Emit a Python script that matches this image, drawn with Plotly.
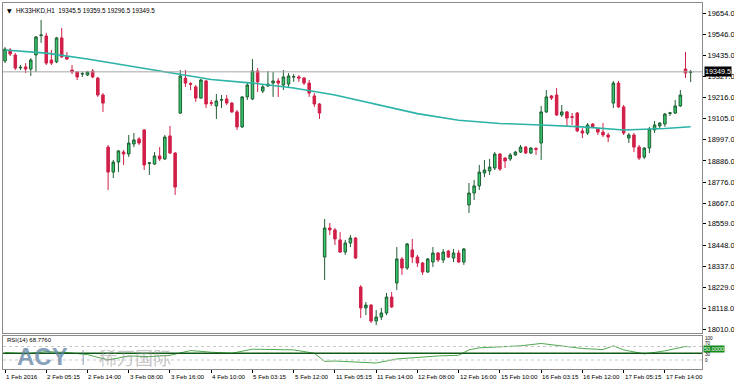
import plotly.graph_objects as go

# ---------------- data ----------------
opens = [19406, 19463, 19437, 19370, 19375, 19364, 19437, 19538, 19536, 19411,
         19401, 19526, 19427, 19359, 19349, 19338, 19333, 19354, 19317, 19229,
         18958, 18828, 18880, 18932, 18922, 18974, 19000, 19047, 18873, 18870,
         18912, 18896, 19016, 18927, 19135, 19317, 19288, 19271, 19213, 19302,
         19189, 19172, 19202, 19208, 19187, 19141, 19063, 19219, 19208, 19354,
         19250, 19276, 19291, 19302, 19281, 19286, 19322, 19323, 19317, 19291,
         19224, 19182, 18386, 18537, 18527, 18475, 18412, 18459, 18485, 18230,
         18121, 18136, 18053, 18074, 18095, 18178, 18251, 18376, 18329, 18423,
         18386, 18355, 18308, 18360, 18407, 18371, 18417, 18381, 18407, 18360,
         18657, 18719, 18756, 18823, 18834, 18849, 18922, 18901, 18896, 18917,
         18932, 18958, 18927, 18950, 18979, 19141, 19224, 19229, 19125, 19141,
         19116, 19135, 19042, 19031, 19078, 19052, 19036, 19021, 19187, 19291,
         19167, 19005, 19021, 18958, 18906, 18953, 19047, 19068, 19078, 19133,
         19135, 19172, 19364, 19345.5]
highs = [19478, 19473, 19447, 19385, 19395, 19421, 19536, 19619, 19552, 19463,
         19531, 19578, 19453, 19385, 19354, 19349, 19354, 19364, 19323, 19239,
         18969, 18891, 18943, 18943, 19021, 19031, 19010, 19052, 18880, 18932,
         18958, 19021, 19068, 18932, 19359, 19359, 19297, 19281, 19312, 19307,
         19203, 19234, 19229, 19229, 19193, 19151, 19222, 19297, 19416, 19369,
         19281, 19354, 19349, 19317, 19359, 19343, 19338, 19333, 19323, 19307,
         19239, 19187, 18584, 18563, 18537, 18516, 18475, 18501, 18490, 18240,
         18152, 18141, 18110, 18121, 18199, 18204, 18438, 18386, 18459, 18480,
         18397, 18360, 18381, 18438, 18412, 18428, 18423, 18428, 18423, 18433,
         18771, 18787, 18865, 18891, 18896, 18932, 18927, 18906, 18927, 18938,
         18969, 18964, 18958, 18958, 19172, 19255, 19229, 19265, 19177, 19146,
         19135, 19141, 19057, 19083, 19083, 19057, 19083, 19031, 19302, 19302,
         19177, 19031, 19031, 18969, 18958, 19063, 19094, 19088, 19135, 19141,
         19203, 19255, 19453, 19359.5]
lows = [19395, 19432, 19359, 19359, 19343, 19328, 19349, 19500, 19385, 19385,
        19395, 19422, 19411, 19338, 19307, 19323, 19328, 19317, 19219, 19141,
        18735, 18797, 18828, 18865, 18906, 18958, 18969, 18839, 18813, 18865,
        18886, 18891, 18922, 18709, 19130, 19271, 19255, 19193, 19210, 19161,
        19172, 19104, 19161, 19177, 19135, 19047, 19057, 19203, 19203, 19245,
        19239, 19271, 19219, 19219, 19255, 19271, 19297, 19297, 19281, 19219,
        19167, 19104, 18267, 18501, 18449, 18407, 18397, 18438, 18376, 18069,
        18084, 18043, 18032, 18058, 18084, 18121, 18214, 18293, 18319, 18355,
        18334, 18293, 18303, 18334, 18360, 18355, 18381, 18360, 18355, 18345,
        18615, 18683, 18735, 18802, 18813, 18839, 18834, 18849, 18886, 18912,
        18927, 18922, 18922, 18917, 18891, 19135, 19203, 19120, 19115, 19063,
        19073, 19036, 19005, 19021, 19057, 19021, 19010, 18984, 19161, 19161,
        19021, 18979, 18932, 18891, 18896, 18927, 19031, 19057, 19063, 19120,
        19130, 19167, 19317, 19296.5]
closes = [19468, 19442, 19369, 19373, 19364, 19411, 19531, 19541, 19395, 19395,
          19526, 19427, 19416, 19349, 19323, 19340, 19349, 19323, 19229, 19187,
          18828, 18880, 18938, 18922, 18979, 18995, 18979, 18865, 18876, 18912,
          18896, 19010, 18927, 18750, 19328, 19291, 19285, 19213, 19307, 19182,
          19186, 19198, 19205, 19187, 19141, 19063, 19219, 19281, 19354, 19297,
          19271, 19286, 19302, 19291, 19323, 19328, 19325, 19317, 19291, 19239,
          19182, 19135, 18537, 18527, 18480, 18412, 18459, 18485, 18381, 18121,
          18136, 18053, 18074, 18095, 18178, 18126, 18376, 18329, 18454, 18386,
          18355, 18308, 18376, 18407, 18371, 18412, 18386, 18407, 18360, 18428,
          18719, 18756, 18828, 18839, 18854, 18922, 18844, 18886, 18917, 18932,
          18958, 18927, 18953, 18946, 19141, 19219, 19213, 19125, 19141, 19109,
          19113, 19042, 19031, 19073, 19063, 19036, 19021, 19010, 19291, 19167,
          19031, 19021, 18958, 18901, 18953, 19052, 19073, 19083, 19130, 19136,
          19172, 19229, 19343, 19349.5]

ma_bars = [0, 8, 16, 24, 32, 40, 48, 56, 64, 72, 80, 88, 96, 104, 112, 120, 128, 133]
ma_values = [19463, 19447, 19416, 19380, 19343, 19310, 19291, 19265, 19229, 19182,
             19132, 19098, 19081, 19073, 19063, 19047, 19055, 19064]

rsi_bars = [0, 4, 8, 12, 16, 20, 24, 28, 32, 36, 40, 44, 48, 52, 56, 60, 62, 64, 68, 72,
            76, 80, 84, 88, 90, 92, 96, 100, 104, 108, 112, 116, 118, 120, 124, 128, 132, 133]
rsi_values = [52, 48, 55, 52, 46, 30, 42, 40, 44, 58, 53, 50, 62, 60, 60, 50, 26, 27, 25, 21,
              33, 38, 42, 44, 60, 66, 70, 72, 79, 72, 64, 61, 72, 60, 48, 57, 70, 68.776]
rsi_levels = [70, 50, 30]
rsi_scale_labels = ["100", "70", "30", "0"]

time_ticks = [0, 8, 16, 24, 32, 40, 48, 56, 64, 72, 80, 88, 96, 104, 112, 120, 128]
time_labels = ["1 Feb 2016", "2 Feb 05:15", "2 Feb 14:00", "3 Feb 08:00", "3 Feb 16:00",
               "4 Feb 10:00", "5 Feb 03:15", "5 Feb 12:00", "11 Feb 05:15", "11 Feb 14:00",
               "12 Feb 08:00", "12 Feb 16:00", "15 Feb 10:00", "16 Feb 03:15", "16 Feb 12:00",
               "17 Feb 05:15", "17 Feb 14:00"]

price_ticks = [19654, 19546, 19435, 19327, 19216, 19105, 18997, 18886, 18776,
               18667, 18559, 18448, 18337, 18229, 18118, 18010]

symbol = "HK33HKD,H1"

# ---------------- figure ----------------
FONT = "Liberation Sans, Arial, sans-serif"
bars = list(range(len(opens)))

fig = go.Figure()
fig.add_trace(go.Candlestick(
    x=bars, open=opens, high=highs, low=lows, close=closes,
    increasing=dict(line=dict(color="#1f5e33", width=1), fillcolor="#33c96a"),
    decreasing=dict(line=dict(color="#d11f48", width=1), fillcolor="#d11f48"),
    whiskerwidth=0, xaxis="x", yaxis="y", showlegend=False, hoverinfo="skip"))
fig.add_trace(go.Scatter(
    x=ma_bars, y=ma_values, mode="lines", line=dict(color="#2ab3a6", width=1.6),
    xaxis="x", yaxis="y", showlegend=False, hoverinfo="skip"))
fig.add_trace(go.Scatter(
    x=rsi_bars, y=rsi_values, mode="lines", line=dict(color="#4ea84e", width=1),
    xaxis="x2", yaxis="y2", showlegend=False, hoverinfo="skip"))

shapes = [dict(type="line", xref="paper", x0=0, x1=1, yref="y",
               y0=closes[-1], y1=closes[-1], line=dict(color="#a6a6a6", width=1))]
for lv in rsi_levels:
    if lv == 50:
        shapes.append(dict(type="line", xref="paper", x0=0, x1=1, yref="y2", y0=lv, y1=lv,
                           line=dict(color="#0f5a14", width=1.6)))
    else:
        shapes.append(dict(type="line", xref="paper", x0=0, x1=1, yref="y2", y0=lv, y1=lv,
                           line=dict(color="#c8c8c8", width=1, dash="dot")))

H = 366.0
def py(ypx):
    return (369 - ypx) / H
def px(xpx):
    return (xpx - 3) / 699.0

ohlc_text = "%s  %.1f %.1f %.1f %.1f" % (symbol, opens[-1], highs[-1], lows[-1], closes[-1])
ann = [
    dict(text="▼", xref="paper", yref="paper", x=px(5), y=py(10), xanchor="left", yanchor="middle",
         showarrow=False, font=dict(family="DejaVu Sans", size=6, color="#000000")),
    dict(text=ohlc_text, xref="paper", yref="paper", x=px(14), y=py(10), xanchor="left",
         yanchor="middle", showarrow=False, font=dict(family=FONT, size=6.3, color="#000000")),
    dict(text="%.1f" % closes[-1], xref="paper", yref="y", x=1, xshift=2, y=closes[-1],
         xanchor="left", yanchor="middle", showarrow=False, bgcolor="#000000", borderpad=0,
         font=dict(family=FONT, size=7.2, color="#ffffff")),
    dict(text="RSI(14) %.4f" % rsi_values[-1], xref="paper", yref="paper", x=px(5), y=py(339.5),
         xanchor="left", yanchor="middle", showarrow=False,
         font=dict(family=FONT, size=6, color="#000000")),
    dict(text="<b>ACY</b>", xref="paper", yref="paper", x=px(42), y=py(356.5),
         xanchor="center", yanchor="middle", showarrow=False,
         font=dict(family=FONT, size=24, color="rgba(95,130,165,0.75)")),
    dict(text="|", xref="paper", yref="paper", x=px(83), y=py(356),
         xanchor="center", yanchor="middle", showarrow=False,
         font=dict(family=FONT, size=16, color="rgba(120,140,160,0.6)")),
    dict(text="稀万国际", xref="paper", yref="paper", x=px(135), y=py(356.5),
         xanchor="center", yanchor="middle", showarrow=False,
         font=dict(family="Noto Sans CJK SC", size=18, color="rgba(150,150,150,0.55)")),
    dict(text="%.4f" % rsi_levels[1], xref="paper", yref="paper", x=1, xshift=1, y=py(349),
         xanchor="left", yanchor="middle", showarrow=False, bgcolor="#118a1a",
         borderpad=0, font=dict(family=FONT, size=5.6, color="#ffffff")),
]
# RSI scale labels on the right (squeezed like the terminal)
for txt, ypx in zip(rsi_scale_labels, [338, 343.3, 354.7, 360]):
    ann.append(dict(text=txt, xref="paper", yref="paper", x=1, xshift=2, y=py(ypx),
                    xanchor="left", yanchor="middle", showarrow=False, borderpad=0,
                    font=dict(family=FONT, size=4.6, color="#000000")))
# time labels, left-aligned at their tick like the terminal
for t, lab in zip(time_ticks, time_labels):
    ann.append(dict(text=lab, xref="x2", yref="paper", x=t, xshift=-1, y=py(376.5),
                    xanchor="left", yanchor="middle", showarrow=False,
                    font=dict(family=FONT, size=6.2, color="#000000")))

axis_common = dict(showgrid=False, zeroline=False, showline=True, mirror=True,
                   linecolor="#8a8a8a", linewidth=1)
xr = [-0.39, 135.2]

fig.update_layout(
    width=734, height=390,
    margin=dict(l=3, r=32, t=3, b=21, autoexpand=False),
    paper_bgcolor="#ffffff", plot_bgcolor="#ffffff",
    showlegend=False,
    shapes=shapes, annotations=ann,
    xaxis=dict(domain=[0, 1], range=xr, anchor="y", showticklabels=False, ticks="",
               rangeslider=dict(visible=False), **axis_common),
    yaxis=dict(domain=[py(333), 1], range=[17990.8, 19707.6], side="right", anchor="x",
               tickvals=price_ticks, ticktext=["%.1f" % v for v in price_ticks],
               ticks="outside", ticklen=3, tickcolor="#000000",
               tickfont=dict(family=FONT, size=7.5, color="#000000"), automargin=False,
               **axis_common),
    xaxis2=dict(domain=[0, 1], range=xr, anchor="y2", matches="x",
                tickvals=time_ticks, ticks="outside", ticklen=3, tickcolor="#000000",
                showticklabels=False, automargin=False, **axis_common),
    yaxis2=dict(domain=[0, py(336)], range=[3.3, 101.1], side="right", anchor="x2",
                showticklabels=False, ticks="", automargin=False, **axis_common),
)

fig.write_html("out.html")
